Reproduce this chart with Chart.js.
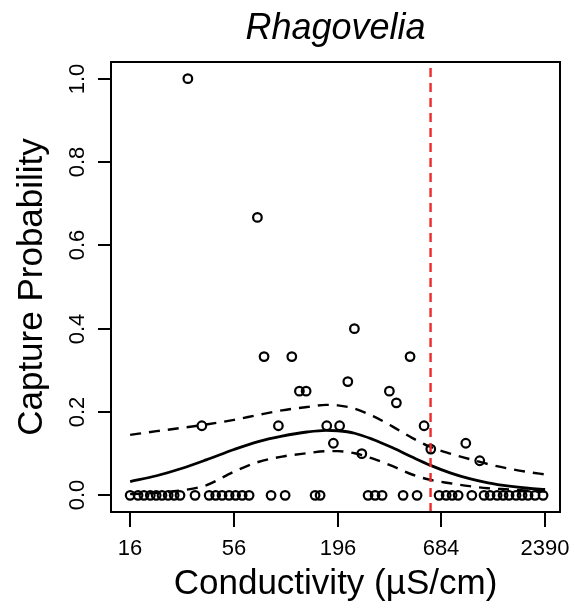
<!DOCTYPE html>
<html lang="en">
<head>
    <meta charset="UTF-8">
    <title>Rhagovelia</title>
    <script src="https://cdn.jsdelivr.net/npm/chart.js"></script>
    <style>
        body { margin: 0; background: #ffffff; }
        canvas { display: block; }
    </style>
</head>
<body>
    <canvas id="rhagoChart" width="575" height="610"></canvas>
<script>
    // observed sites: conductivity (uS/cm) and capture probability
    var conductivity = [16, 17.6, 18.9, 20.4, 21.9, 23.5, 25.3, 27.2, 29.2, 32.1, 35.0, 38.0, 41.5, 44.9, 48.5, 52.8,
        57.1, 61.8, 67.2, 74.3, 80.5, 87.6, 95.7, 103.8, 112.5, 123.3, 133.7, 149, 158.3, 171.5, 185.8, 200.3,
        221.1, 239.4, 261.7, 282.4, 307.2, 334.4, 365.1, 397.3, 430.7, 468.6, 509.9, 554.9, 601.6, 665, 724,
        778, 837, 917.8, 987, 1086, 1144, 1230, 1339, 1439, 1547, 1683, 1810, 1946, 2117, 2331];
    var captureProb = [0, 0, 0, 0, 0, 0, 0, 0, 0, 1.0, 0, 0.167, 0, 0, 0, 0,
        0, 0, 0, 0.667, 0.333, 0, 0.167, 0, 0.333, 0.25, 0.25, 0, 0, 0.167, 0.125, 0.167,
        0.273, 0.4, 0.1, 0, 0, 0, 0.25, 0.222, 0, 0.333, 0, 0.167, 0.111, 0, 0,
        0, 0, 0.125, 0, 0.083, 0, 0, 0, 0, 0, 0, 0, 0, 0, 0];

    // fitted curve and confidence band
    var curveX = [16, 22, 30, 40, 56, 75, 100, 135, 170, 196, 240, 300, 380, 480, 600, 760, 960, 1200, 1550, 1950, 2390];
    var fitY = [0.033, 0.047, 0.065, 0.085, 0.11, 0.129, 0.142, 0.152, 0.156, 0.155, 0.149, 0.134, 0.114, 0.092, 0.072, 0.054, 0.04, 0.03, 0.022, 0.017, 0.014];
    var upperY = [0.145, 0.154, 0.162, 0.17, 0.181, 0.193, 0.204, 0.212, 0.217, 0.216, 0.208, 0.19, 0.165, 0.138, 0.116, 0.1, 0.087, 0.075, 0.064, 0.056, 0.05];
    var lowerY = [0.003, 0.006, 0.012, 0.024, 0.057, 0.08, 0.093, 0.101, 0.106, 0.106, 0.101, 0.088, 0.07, 0.05, 0.037, 0.029, 0.022, 0.017, 0.014, 0.011, 0.009];

    var threshold = 600;
    var xTicks = [16, 56, 196, 684, 2390];
    var yTicks = [0, 0.2, 0.4, 0.6, 0.8, 1.0];
    var yMin = -0.04, yMax = 1.04;

    var FONT = '"Liberation Sans", Arial, Helvetica, sans-serif';

    // R-style frame, ticks and labels
    var rAxes = {
        id: 'rAxes',
        beforeDraw: function (chart) {
            var c = chart.ctx;
            c.save();
            c.fillStyle = '#ffffff';
            c.fillRect(0, 0, chart.width, chart.height);
            c.restore();
        },
        afterDraw: function (chart) {
            var c = chart.ctx, a = chart.chartArea;
            var xs = chart.scales.x, ys = chart.scales.y;
            c.save();
            c.strokeStyle = '#000000';
            c.lineWidth = 2;
            c.strokeRect(a.left, a.top, a.right - a.left, a.bottom - a.top);

            c.fillStyle = '#000000';
            c.font = '22px ' + FONT;
            c.textAlign = 'center';
            c.textBaseline = 'middle';
            xTicks.forEach(function (t) {
                var px = Math.round(xs.getPixelForValue(t));
                c.beginPath();
                c.moveTo(px, a.bottom);
                c.lineTo(px, a.bottom + 15);
                c.stroke();
                c.fillText(String(t), px, a.bottom + 37);
            });
            yTicks.forEach(function (t) {
                var py = Math.round(ys.getPixelForValue(t));
                c.beginPath();
                c.moveTo(a.left, py);
                c.lineTo(a.left - 13, py);
                c.stroke();
                c.save();
                c.translate(a.left - 33, py);
                c.rotate(-Math.PI / 2);
                c.fillText(t.toFixed(1), 0, 0);
                c.restore();
            });

            c.font = '35px ' + FONT;
            c.fillText('Conductivity (\u00b5S/cm)', (a.left + a.right) / 2, 584);
            c.save();
            c.translate(32, (a.top + a.bottom) / 2);
            c.rotate(-Math.PI / 2);
            c.fillText('Capture Probability', 0, 0);
            c.restore();

            c.font = 'italic 36px ' + FONT;
            c.fillText('Rhagovelia', (a.left + a.right) / 2, 29);
            c.restore();
        }
    };

    function pairs(xv, yv) {
        return xv.map(function (x, i) { return { x: x, y: yv[i] }; });
    }

    var ctx = document.getElementById('rhagoChart').getContext('2d');
    window.myChart = new Chart(ctx, {
        type: 'scatter',
        data: {
            datasets: [{
                label: 'threshold',
                data: [{ x: threshold, y: yMin }, { x: threshold, y: yMax }],
                showLine: true,
                borderColor: '#ee2a2a',
                borderWidth: 2.4,
                borderDash: [9, 6],
                pointRadius: 0
            }, {
                label: 'upper',
                data: pairs(curveX, upperY),
                showLine: true,
                borderColor: '#000000',
                borderWidth: 2.4,
                borderDash: [11, 8],
                cubicInterpolationMode: 'monotone',
                pointRadius: 0
            }, {
                label: 'lower',
                data: pairs(curveX, lowerY),
                showLine: true,
                borderColor: '#000000',
                borderWidth: 2.4,
                borderDash: [11, 8],
                cubicInterpolationMode: 'monotone',
                pointRadius: 0
            }, {
                label: 'fit',
                data: pairs(curveX, fitY),
                showLine: true,
                borderColor: '#000000',
                borderWidth: 2.8,
                cubicInterpolationMode: 'monotone',
                pointRadius: 0
            }, {
                label: 'sites',
                data: pairs(conductivity, captureProb),
                showLine: false,
                pointStyle: 'circle',
                pointRadius: 4.3,
                pointBorderWidth: 2.2,
                pointBorderColor: '#000000',
                pointBackgroundColor: 'rgba(0,0,0,0)'
            }]
        },
        options: {
            responsive: false,
            animation: false,
            devicePixelRatio: 1,
            layout: {
                padding: { left: 111, top: 62, right: 15, bottom: 98 }
            },
            scales: {
                x: { type: 'logarithmic', min: 12.7, max: 2860, display: false },
                y: { type: 'linear', min: yMin, max: yMax, display: false }
            },
            plugins: {
                legend: { display: false },
                tooltip: { enabled: false }
            }
        },
        plugins: [rAxes]
    });
</script>
</body>
</html>
